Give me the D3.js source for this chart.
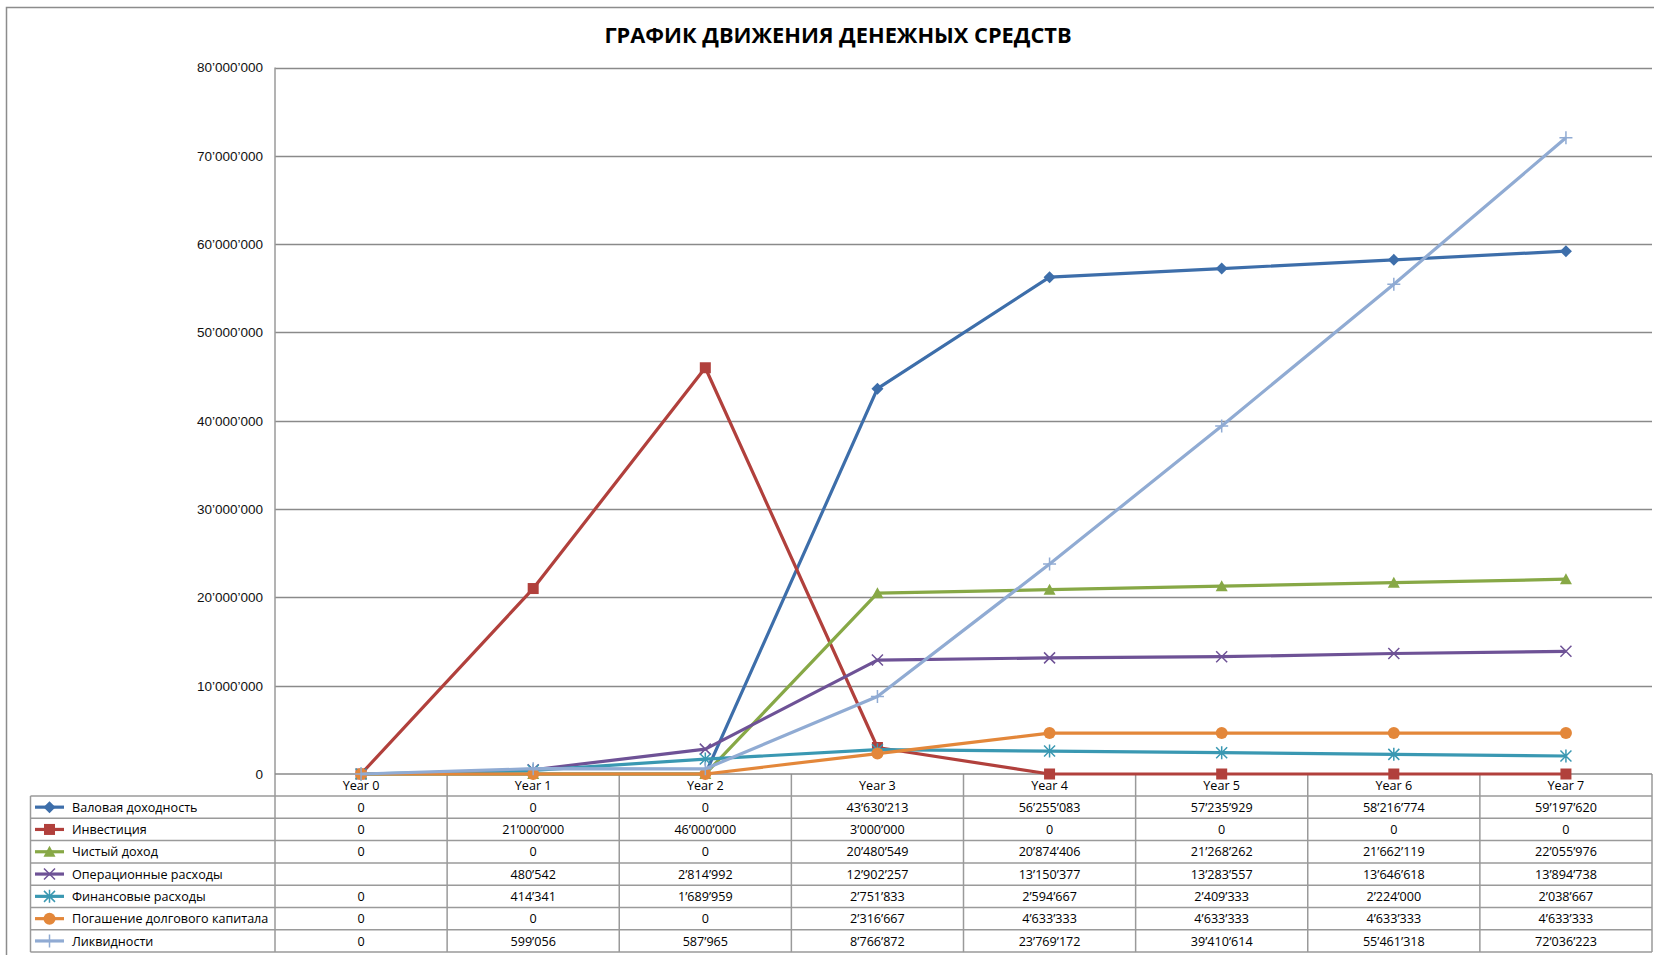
<!DOCTYPE html>
<html>
<head>
<meta charset="utf-8">
<script src="https://d3js.org/d3.v7.min.js"></script>
<style>
    body { margin: 0; background: #fff; }
</style>
</head>
<body>
<script>
// Chart data
var years = ["Year 0", "Year 1", "Year 2", "Year 3", "Year 4", "Year 5", "Year 6", "Year 7"];
var seriesNames = [
    "Валовая доходность",
    "Инвестиция",
    "Чистый доход",
    "Операционные расходы",
    "Финансовые расходы",
    "Погашение  долгового капитала",
    "Ликвидности"
];
var grossIncome    = [0, 0, 0, 43630213, 56255083, 57235929, 58216774, 59197620];
var investment     = [0, 21000000, 46000000, 3000000, 0, 0, 0, 0];
var netIncome      = [0, 0, 0, 20480549, 20874406, 21268262, 21662119, 22055976];
var operatingCosts = [null, 480542, 2814992, 12902257, 13150377, 13283557, 13646618, 13894738];
var financeCosts   = [0, 414341, 1689959, 2751833, 2594667, 2409333, 2224000, 2038667];
var debtRepayment  = [0, 0, 0, 2316667, 4633333, 4633333, 4633333, 4633333];
var liquidity      = [0, 599056, 587965, 8766872, 23769172, 39410614, 55461318, 72036223];
var yTicks = [0, 10000000, 20000000, 30000000, 40000000, 50000000, 60000000, 70000000, 80000000];
var chartTitle = "ГРАФИК ДВИЖЕНИЯ ДЕНЕЖНЫХ СРЕДСТВ";

// Styles for each series (same order as seriesNames)
var seriesColors = ["#3d6eaa", "#b1403c", "#87a846", "#6e5296", "#3a98b2", "#e3873a", "#90abd3"];
var seriesMarkers = ["diamond", "square", "triangle", "cross", "star", "circle", "plus"];

window.onload = drawChart();

function drawChart() {

    var width = 1654,
        height = 955;

    var svg = d3.select("body")
        .append("svg")
        .attr("width", width)
        .attr("height", height);

    // Outer chart frame (runs off the right and bottom edge)
    svg.append("rect")
        .attr("x", 6.5)
        .attr("y", 7.5)
        .attr("width", 1700)
        .attr("height", 1000)
        .attr("fill", "#fff")
        .attr("stroke", "#8c8c8c")
        .attr("stroke-width", 1.5);

    // Plot area bounds
    var left = 275, right = 1652, top = 67.5, bottom = 774;
    var tableLeft = 30.5, rowH = 22.3, headerH = 22;
    var tableFont = "12.6px";

    var x = d3.scaleBand()
        .domain(years)
        .range([left, right])
        .paddingInner(0)
        .paddingOuter(0);

    var y = d3.scaleLinear()
        .domain([0, 80000000])
        .range([bottom, top]);

    function cx(i) { return x(years[i]) + x.bandwidth() / 2; }

    var fmt = function(v) {
        return d3.format(",")(v).replace(/,/g, "\u2019");
    };

    // Title
    svg.append("text")
        .attr("x", 838)
        .attr("y", 43)
        .attr("text-anchor", "middle")
        .style("font-family", "'Open Sans', sans-serif")
        .style("font-weight", "bold")
        .style("font-size", "21.8px")
        .text(chartTitle);

    // Horizontal gridlines
    svg.append("g")
        .selectAll("line")
        .data(yTicks.slice(1))
        .enter()
        .append("line")
        .attr("x1", left)
        .attr("x2", right)
        .attr("y1", function(d) { return Math.round(y(d)) + 0.5; })
        .attr("y2", function(d) { return Math.round(y(d)) + 0.5; })
        .attr("stroke", "#8a8a8a")
        .attr("stroke-width", 1.5);

    // Y axis (labels only, the line is the plot border)
    var yAxis = d3.axisLeft(y)
        .tickValues(yTicks)
        .tickSize(0)
        .tickPadding(12)
        .tickFormat(fmt);

    var yAxisG = svg.append("g")
        .attr("transform", "translate(" + left + ",0)")
        .call(yAxis);
    yAxisG.select(".domain").remove();
    yAxisG.selectAll("text")
        .style("font-family", "'Liberation Sans', Arial, sans-serif")
        .style("font-size", "13.5px")
        .attr("fill", "#111");

    // Data table grid
    var nRows = seriesNames.length;
    var tableTop = bottom + headerH;
    var tableBottom = tableTop + nRows * rowH;
    var grid = svg.append("g")
        .attr("stroke", "#9a9a9a")
        .attr("stroke-width", 1.5);

    // row separators
    var rowLines = d3.range(nRows + 1).map(function(i) { return tableTop + i * rowH; });
    grid.selectAll(".rowLine")
        .data(rowLines)
        .enter()
        .append("line")
        .attr("class", "rowLine")
        .attr("x1", tableLeft)
        .attr("x2", right)
        .attr("y1", function(d) { return d; })
        .attr("y2", function(d) { return d; });

    // column separators (start at the axis line)
    var colEdges = years.map(function(d) { return x(d); }).concat([right]);
    grid.selectAll(".colLine")
        .data(colEdges)
        .enter()
        .append("line")
        .attr("class", "colLine")
        .attr("x1", function(d) { return d; })
        .attr("x2", function(d) { return d; })
        .attr("y1", function(d, i) { return i === 0 ? top : bottom; })
        .attr("y2", tableBottom);

    grid.append("line")
        .attr("x1", tableLeft)
        .attr("x2", tableLeft)
        .attr("y1", tableTop)
        .attr("y2", tableBottom);

    // x axis line (value 0)
    svg.append("line")
        .attr("x1", left)
        .attr("x2", right)
        .attr("y1", bottom)
        .attr("y2", bottom)
        .attr("stroke", "#8a8a8a")
        .attr("stroke-width", 1.5);

    // Year header labels
    svg.append("g")
        .selectAll("text")
        .data(years)
        .enter()
        .append("text")
        .attr("x", function(d) { return x(d) + x.bandwidth() / 2; })
        .attr("y", bottom + headerH / 2 + 4.5)
        .attr("text-anchor", "middle")
        .style("font-family", "'Open Sans', sans-serif")
        .style("font-size", tableFont)
        .text(function(d) { return d; });

    var allSeries = [grossIncome, investment, netIncome, operatingCosts, financeCosts, debtRepayment, liquidity];

    // Lines
    var line = d3.line()
        .defined(function(d) { return d !== null; })
        .x(function(d, i) { return cx(i); })
        .y(function(d) { return y(d); });

    var seriesG = svg.selectAll(".series")
        .data(allSeries)
        .enter()
        .append("g")
        .attr("class", "series");

    seriesG.append("path")
        .attr("d", function(d) { return line(d); })
        .attr("fill", "none")
        .attr("stroke", function(d, i) { return seriesColors[i]; })
        .attr("stroke-width", 3.2)
        .attr("stroke-linejoin", "round");

    seriesG.each(function(values, s) {
        var g = d3.select(this);
        values.forEach(function(v, i) {
            if (v === null) return;
            drawMarker(g, seriesMarkers[s], cx(i), y(v), seriesColors[s]);
        });
    });

    // Table rows: legend key, name and values
    seriesNames.forEach(function(name, s) {
        var rowMid = tableTop + s * rowH + rowH / 2;
        var key = svg.append("g");
        key.append("line")
            .attr("x1", 35)
            .attr("x2", 64)
            .attr("y1", rowMid)
            .attr("y2", rowMid)
            .attr("stroke", seriesColors[s])
            .attr("stroke-width", 3.2);
        drawMarker(key, seriesMarkers[s], 49.5, rowMid, seriesColors[s]);

        svg.append("text")
            .attr("x", 72)
            .attr("y", rowMid + 4.6)
            .style("font-family", "'Open Sans', sans-serif")
            .style("font-size", tableFont)
            .text(name);

        svg.append("g")
            .selectAll("text")
            .data(allSeries[s])
            .enter()
            .append("text")
            .attr("x", function(d, i) { return cx(i); })
            .attr("y", rowMid + 4.6)
            .attr("text-anchor", "middle")
            .style("font-family", "'Open Sans', sans-serif")
            .style("font-size", tableFont)
            .text(function(d) { return d === null ? "" : fmt(d); });
    });

    function drawMarker(g, type, px, py, color) {
        var m = g.append("g").attr("transform", "translate(" + px + "," + py + ")");
        if (type === "diamond") {
            m.append("path").attr("d", "M0,-6L6,0L0,6L-6,0Z").attr("fill", color);
        } else if (type === "square") {
            m.append("rect").attr("x", -5.5).attr("y", -5.5).attr("width", 11).attr("height", 11).attr("fill", color);
        } else if (type === "triangle") {
            m.append("path").attr("d", "M0,-6L6,5L-6,5Z").attr("fill", color);
        } else if (type === "circle") {
            m.append("circle").attr("r", 6).attr("fill", color);
        } else if (type === "cross") {
            m.append("path").attr("d", "M-5.5,-5.5L5.5,5.5M-5.5,5.5L5.5,-5.5").attr("stroke", color).attr("stroke-width", 1.5);
        } else if (type === "star") {
            m.append("path").attr("d", "M-5.5,-5.5L5.5,5.5M-5.5,5.5L5.5,-5.5M0,-6.5L0,6.5").attr("stroke", color).attr("stroke-width", 1.5);
        } else if (type === "plus") {
            m.append("path").attr("d", "M-6.5,0L6.5,0M0,-6.5L0,6.5").attr("stroke", color).attr("stroke-width", 1.5);
        }
    }
}
</script>
</body>
</html>
